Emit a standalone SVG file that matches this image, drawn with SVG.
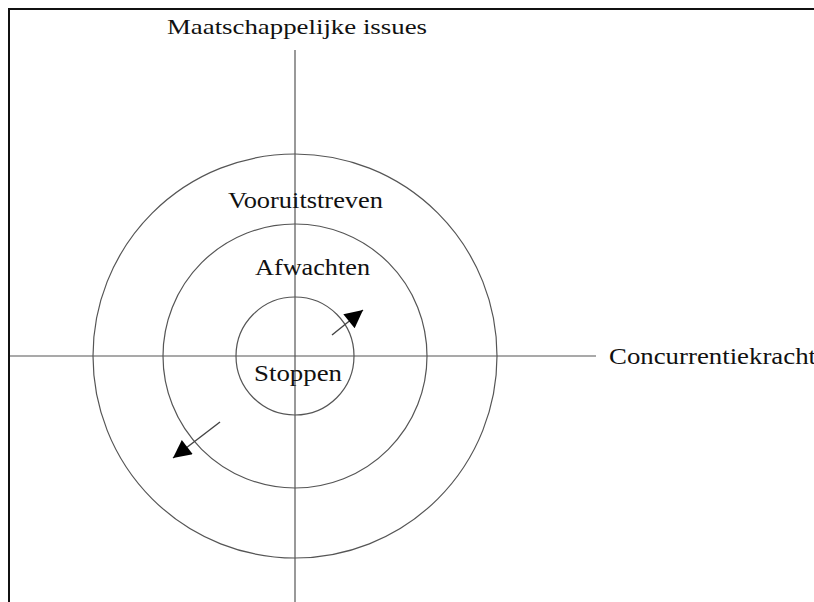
<svg xmlns="http://www.w3.org/2000/svg" width="814" height="602" viewBox="0 0 814 602">
<style>
.frame{stroke:#111;stroke-width:2;fill:none}
.axis{stroke:#555;stroke-width:1.2;fill:none}
.ring{stroke:#555;stroke-width:1.2;fill:none}
.arr{stroke:#444;stroke-width:1.4;fill:none;marker-end:url(#head)}
text{font-family:"Liberation Serif","Times New Roman",serif;fill:#111}
</style>
<defs>
<marker id="head" viewBox="0 0 10 10" refX="10" refY="5" markerWidth="21" markerHeight="18" markerUnits="userSpaceOnUse" orient="auto">
<path d="M0,0 L10,5 L0,10 Z" fill="#000"/>
</marker>
</defs>
<rect width="814" height="602" fill="#fff"/>
<g id="frame">
<path class="frame" d="M9,602 V9 H814"/>
</g>
<g id="axes">
<line class="axis" x1="295" y1="50" x2="295" y2="602"/>
<line class="axis" x1="10" y1="356" x2="596" y2="356"/>
</g>
<g id="ring-outer"><circle class="ring" cx="295" cy="356" r="202"/><text x="228" y="208" font-size="24" textLength="155" lengthAdjust="spacingAndGlyphs">Vooruitstreven</text></g>
<g id="ring-middle"><circle class="ring" cx="295" cy="356" r="132"/><text x="255" y="275" font-size="24" textLength="115" lengthAdjust="spacingAndGlyphs">Afwachten</text></g>
<g id="ring-inner"><circle class="ring" cx="295" cy="356" r="59"/><text x="254" y="381" font-size="24" textLength="88" lengthAdjust="spacingAndGlyphs">Stoppen</text></g>
<g id="label-y"><text x="167" y="34" font-size="22" textLength="260" lengthAdjust="spacingAndGlyphs">Maatschappelijke issues</text></g>
<g id="label-x"><text x="609" y="364" font-size="23" textLength="207" lengthAdjust="spacingAndGlyphs">Concurrentiekracht</text></g>
<g id="connectors">
<line class="arr" x1="332" y1="335" x2="363" y2="310"/>
<line class="arr" x1="220" y1="422" x2="173" y2="458"/>
</g>
</svg>
